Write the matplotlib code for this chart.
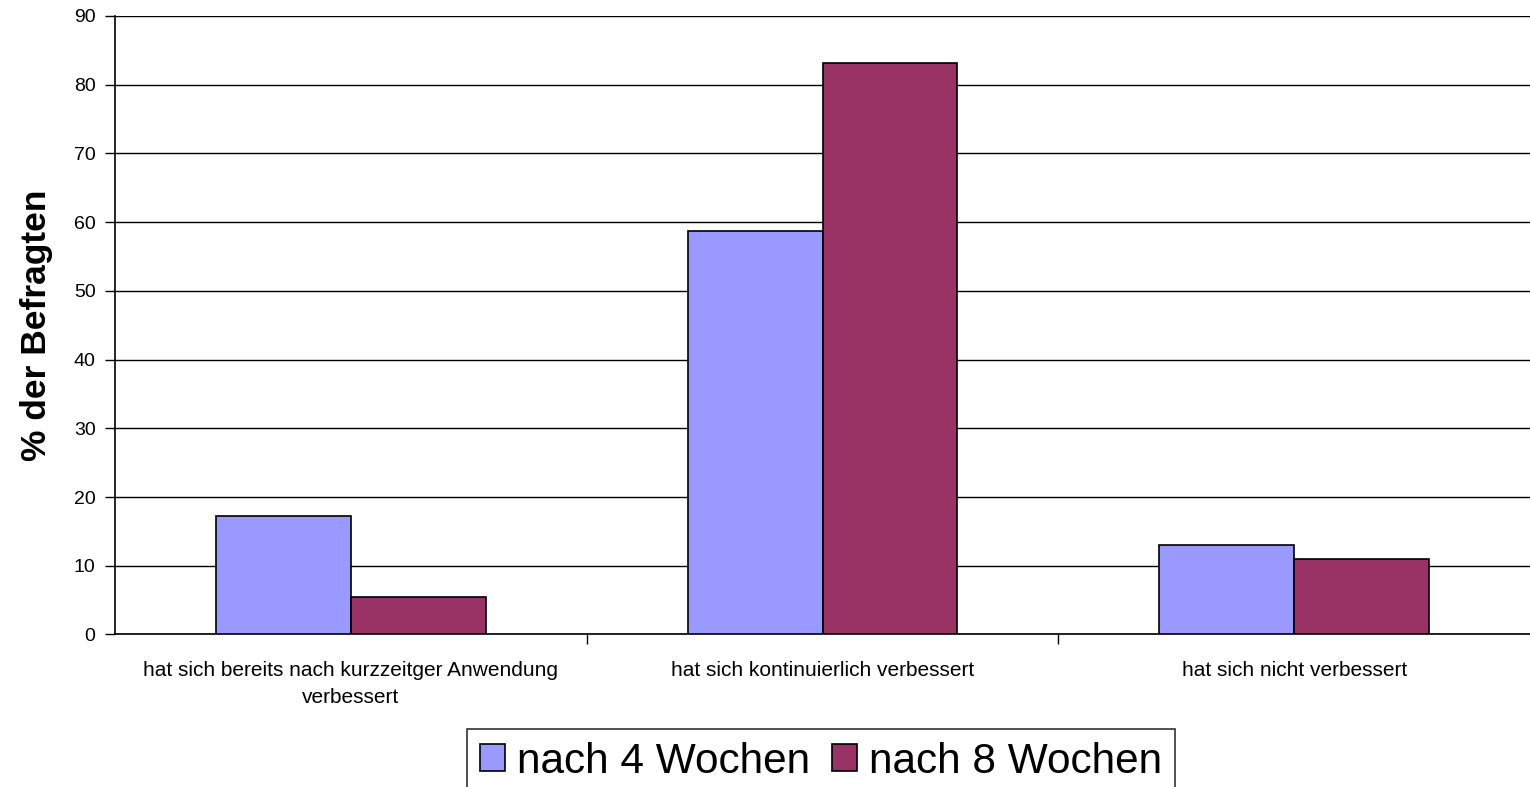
import matplotlib
matplotlib.use("Agg")
import matplotlib.pyplot as plt
import numpy as np

plt.rcParams['font.family'] = ['Liberation Sans', 'DejaVu Sans']

categories = ["hat sich bereits nach kurzzeitger Anwendung\nverbessert",
              "hat sich kontinuierlich verbessert",
              "hat sich nicht verbessert"]
series_names = ["nach 4 Wochen", "nach 8 Wochen"]
values_4w = [17.3, 58.7, 13.0]
values_8w = [5.5, 83.2, 11.0]
colors = ["#9999FF", "#993366"]

fig = plt.figure(figsize=(15.3, 7.87), dpi=100)
ax = fig.add_axes([0.0752, 0.1938, 0.9248, 0.786])

x = np.arange(len(categories))
w = 1 / 3.5
ax.bar(x - w / 2, values_4w, width=w, color=colors[0], edgecolor="black", linewidth=1.2, label=series_names[0], zorder=3)
ax.bar(x + w / 2, values_8w, width=w, color=colors[1], edgecolor="black", linewidth=1.2, label=series_names[1], zorder=3)

ax.set_xlim(-0.5, 2.5)
ax.set_ylim(0, 90)
ax.set_yticks(np.arange(0, 91, 10))
ax.yaxis.grid(True, color="black", linewidth=1.0, zorder=0)
ax.set_axisbelow(True)
ax.tick_params(axis="y", labelsize=14, length=7, width=1, direction="out", pad=7)

ax.set_xticks([0.5, 1.5])
ax.set_xticklabels([])
ax.set_xticks(x, minor=True)
ax.set_xticklabels(categories, minor=True, fontsize=15, linespacing=1.55)
ax.tick_params(axis="x", which="major", length=7, width=1, direction="out")
ax.tick_params(axis="x", which="minor", length=0, pad=19)

for s in ["top", "right"]:
    ax.spines[s].set_visible(False)
ax.spines["left"].set_linewidth(1.2)
ax.spines["bottom"].set_linewidth(1.2)

ax.set_ylabel("% der Befragten", fontsize=25.5, fontweight="bold", labelpad=15)

leg = fig.legend(loc="upper center", bbox_to_anchor=(821 / 1530, 1 - 729 / 787), ncol=2,
                 fontsize=30.5, frameon=True, fancybox=False, edgecolor="black",
                 handlelength=0.6, handleheight=0.6, handletextpad=0.29, columnspacing=0.5,
                 borderpad=0.3, borderaxespad=0)
leg.get_frame().set_linewidth(1.2)

fig.savefig("out.png", dpi=100)
